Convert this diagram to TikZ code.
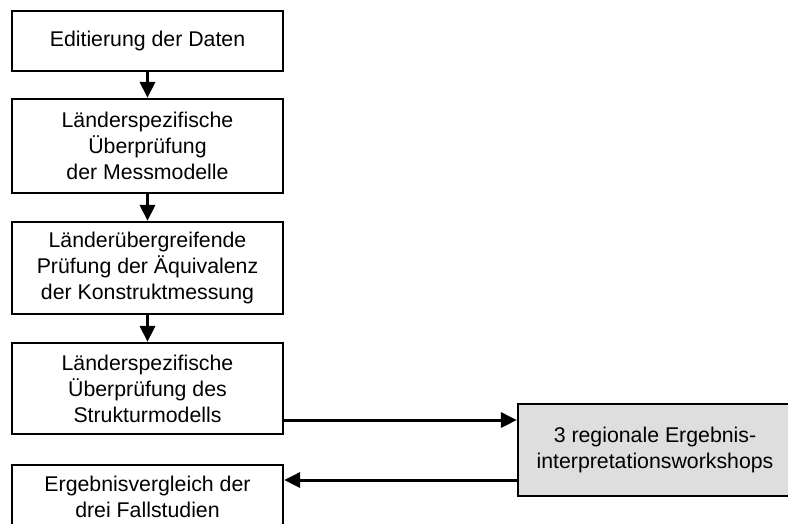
\documentclass[tikz,border=0pt]{standalone}
\usepackage{fontspec}
\setmainfont{Liberation Sans}
\usetikzlibrary{arrows.meta,calc}
\begin{document}
\begin{tikzpicture}[x=1pt,y=-1pt,
  stepbox/.style={draw=black,line width=2.2pt,fill=white,align=center,
    minimum width=271pt,inner sep=0pt,
    font=\fontsize{21.3}{26}\selectfont},
  graybox/.style={stepbox,fill=black!13},
  arr/.style={line width=3pt,-{Triangle[length=16pt,width=15pt]}}]
\clip (0,0) rectangle (788,523);
\fill[white] (0,0) rectangle (788,523);
\node[stepbox,minimum height=60pt] (b1) at (147.5,41) {Editierung der Daten};
\node[stepbox,minimum height=94pt] (b2) at (147.5,146) {Länderspezifische\\Überprüfung\\der Messmodelle};
\node[stepbox,minimum height=92pt] (b3) at (147.5,268) {Länderübergreifende\\Prüfung der Äquivalenz\\der Konstruktmessung};
\node[stepbox,minimum height=91pt] (b4) at (147.5,388.5) {Länderspezifische\\Überprüfung des\\Strukturmodells};
\node[stepbox,minimum height=63pt] (b5) at (147.5,496.5) {Ergebnisvergleich der\\drei Fallstudien};
\node[graybox,minimum width=274pt,minimum height=92pt] (g) at (655,450) {3 regionale Ergebnis-\\interpretationsworkshops};
\draw[arr] (b1) -- (b2);
\draw[arr] (b2) -- (b3);
\draw[arr] (b3) -- (b4);
\coordinate (p1) at ([yshift=-31.5pt]b4.east);
\draw[arr] (p1) -- (p1 -| g.west);
\coordinate (p2) at ([yshift=-30pt]g.west);
\draw[arr] (p2) -- (p2 -| b5.east);
\end{tikzpicture}
\end{document}
